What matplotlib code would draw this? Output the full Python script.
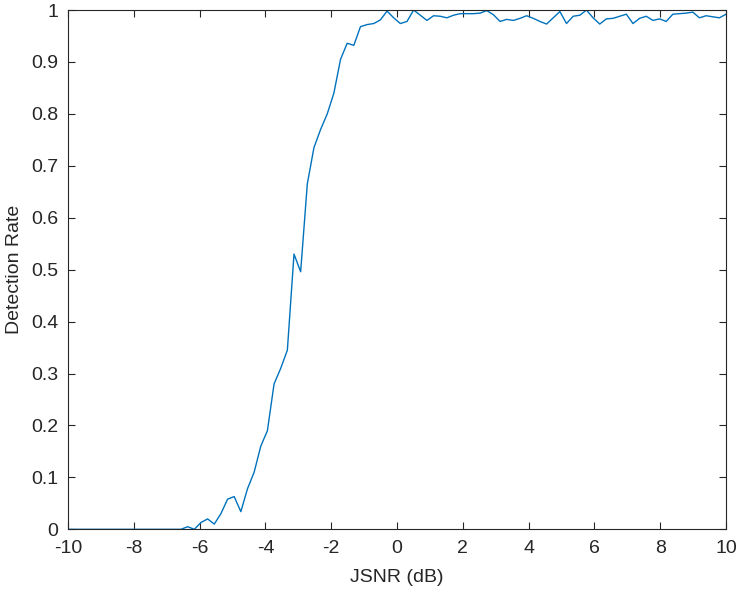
import numpy as np
import matplotlib
matplotlib.use("Agg")
import matplotlib.pyplot as plt

# JSNR sweep (100 points from -10 to 10 dB)
jsnr = np.linspace(-10, 10, 100)

# detection rate
detection_rate = [
    0, 0, 0, 0, 0, 0, 0, 0, 0, 0,
    0, 0, 0, 0, 0, 0, 0, 0.0, 0.005, 0.0,
    0.013, 0.02, 0.01, 0.03, 0.058, 0.063, 0.034, 0.078, 0.11, 0.16,
    0.19, 0.28, 0.31, 0.345, 0.53, 0.496, 0.665, 0.735, 0.77, 0.80,
    0.84, 0.905, 0.936, 0.932, 0.968, 0.972, 0.974, 0.981, 0.998, 0.985,
    0.974, 0.978, 1.0, 0.99, 0.98, 0.989, 0.988, 0.985, 0.99, 0.993,
    0.993, 0.993, 0.994, 0.999, 0.991, 0.978, 0.982, 0.980, 0.984, 0.989,
    0.984, 0.978, 0.973, 0.985, 0.997, 0.974, 0.988, 0.99, 1.0, 0.985,
    0.973, 0.983, 0.984, 0.988, 0.992, 0.974, 0.984, 0.988, 0.980, 0.983,
    0.978, 0.992, 0.993, 0.994, 0.996, 0.985, 0.989, 0.987, 0.985, 0.992,
]

x_ticks = list(range(-10, 11, 2))
y_ticks = [0, 0.1, 0.2, 0.3, 0.4, 0.5, 0.6, 0.7, 0.8, 0.9, 1]
y_tick_labels = ["0", "0.1", "0.2", "0.3", "0.4", "0.5", "0.6", "0.7", "0.8", "0.9", "1"]

plt.rcParams['font.family'] = ['Liberation Sans', 'DejaVu Sans']
axis_gray = (0.15, 0.15, 0.15)

fig = plt.figure(figsize=(7.41, 5.97), dpi=100)
ax = fig.add_axes([0.0918, 0.1134, 0.888, 0.8698])

ax.plot(jsnr, detection_rate, color='#0072BD', linewidth=1.0)

ax.set_xlim(-10, 10)
ax.set_ylim(0, 1)
ax.set_xticks(x_ticks)
ax.set_xticklabels([str(t) for t in x_ticks])
ax.set_yticks(y_ticks)
ax.set_yticklabels(y_tick_labels)
ax.tick_params(direction='in', length=5, width=0.8, colors=axis_gray,
               labelsize=14, top=True, right=True, labeltop=False, labelright=False)
ax.tick_params(axis='x', pad=8)
ax.tick_params(axis='y', pad=7)
for spine in ax.spines.values():
    spine.set_color(axis_gray)
    spine.set_linewidth(0.8)

ax.set_xlabel("JSNR (dB)", fontsize=14, color=axis_gray, labelpad=8)
ax.set_ylabel("Detection Rate", fontsize=14, color=axis_gray, labelpad=6)

fig.savefig("out.png", dpi=100)
